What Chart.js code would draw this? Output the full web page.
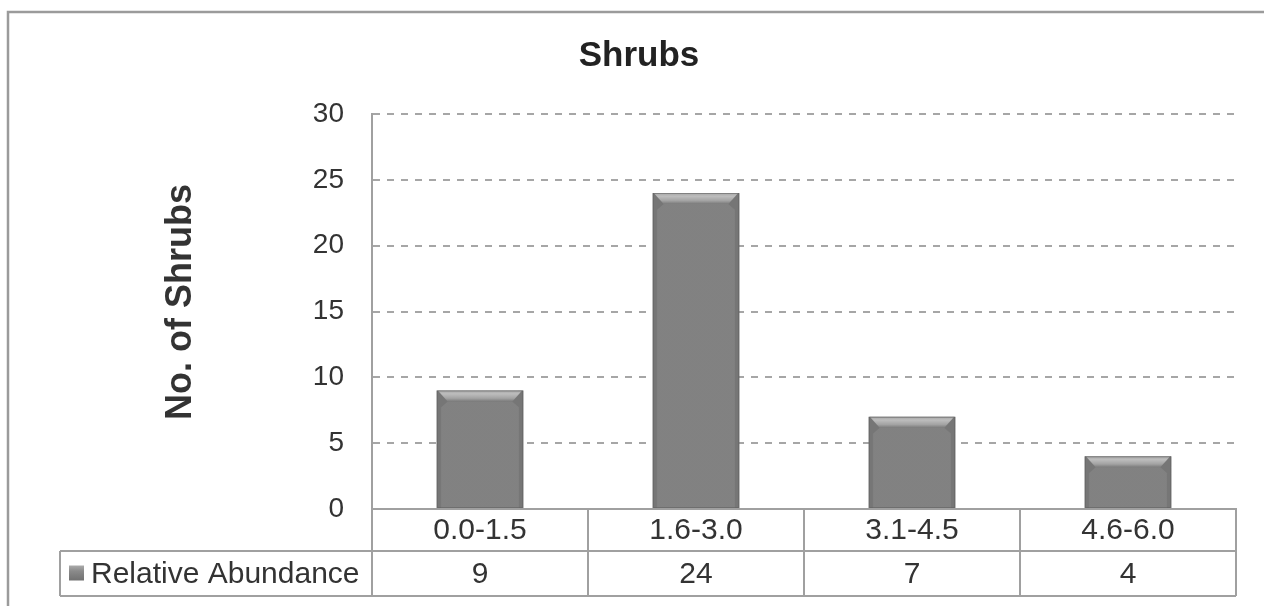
<!DOCTYPE html>
<html>
<head>
<meta charset="utf-8">
<title>Shrubs</title>
<script src="https://cdn.jsdelivr.net/npm/chart.js@4.4.1/dist/chart.umd.min.js"></script>
<style>
  html, body { margin: 0; padding: 0; background: #ffffff; }
  #wrap { width: 1264px; height: 606px; position: relative; }
  canvas { display: block; }
</style>
</head>
<body>
<div id="wrap"><canvas id="c" width="1264" height="606"></canvas></div>
<script>
// Height classes (m) and number of shrubs in each class
const categories = ['0.0-1.5', '1.6-3.0', '3.1-4.5', '4.6-6.0'];
const abundance = [9, 24, 7, 4];
const seriesName = 'Relative Abundance';
const chartTitle = 'Shrubs';
const yTitle = 'No. of Shrubs';
const yMin = 0, yMax = 30, yStep = 5;

const FONT = '"Liberation Sans", Arial, Helvetica, sans-serif';
const LINE = '#a0a0a0';
const TEXT = '#333333';
const BAR = '#848484';

// Excel-style bevel on each bar, table under the plot, frame and y title
const decor = {
  id: 'decor',
  afterDatasetsDraw(chart) {
    const ctx = chart.ctx;
    const meta = chart.getDatasetMeta(0);
    meta.data.forEach(bar => {
      const w = bar.width;
      const L = bar.x - w / 2, R = bar.x + w / 2;
      const T = Math.min(bar.y, bar.base), B = Math.max(bar.y, bar.base);
      const bv = 11, sv = 4;
      ctx.save();
      // face shading
      let g = ctx.createLinearGradient(L, 0, R, 0);
      g.addColorStop(0, 'rgba(0,0,0,0.16)');
      g.addColorStop(0.06, 'rgba(0,0,0,0.02)');
      g.addColorStop(0.94, 'rgba(0,0,0,0.02)');
      g.addColorStop(1, 'rgba(0,0,0,0.18)');
      ctx.fillStyle = g;
      ctx.fillRect(L, T, w, B - T);
      // side bevel corners
      ctx.fillStyle = '#767676';
      ctx.beginPath();
      ctx.moveTo(L, T); ctx.lineTo(L + bv, T + bv); ctx.lineTo(L + sv, T + bv + 6); ctx.lineTo(L + sv, B); ctx.lineTo(L, B);
      ctx.closePath(); ctx.fill();
      ctx.beginPath();
      ctx.moveTo(R, T); ctx.lineTo(R - bv, T + bv); ctx.lineTo(R - sv, T + bv + 6); ctx.lineTo(R - sv, B); ctx.lineTo(R, B);
      ctx.closePath(); ctx.fill();
      // top bevel
      g = ctx.createLinearGradient(0, T, 0, T + bv);
      g.addColorStop(0, '#a6a6a6');
      g.addColorStop(0.3, '#bdbdbd');
      g.addColorStop(0.7, '#a3a3a3');
      g.addColorStop(1, '#7a7a7a');
      ctx.fillStyle = g;
      ctx.beginPath();
      ctx.moveTo(L + 1, T); ctx.lineTo(R - 1, T); ctx.lineTo(R - bv, T + bv); ctx.lineTo(L + bv, T + bv);
      ctx.closePath(); ctx.fill();
      // soft outline
      ctx.strokeStyle = 'rgba(95,95,95,0.55)';
      ctx.lineWidth = 1;
      ctx.strokeRect(L + 0.5, T + 0.5, w - 1, B - T - 1);
      ctx.restore();
    });
  },
  afterDraw(chart) {
    const ctx = chart.ctx;
    const area = chart.chartArea;
    const xs = chart.scales.x;
    const n = categories.length;
    const colW = (area.right - area.left) / n;
    const row1Top = area.bottom, row1Bot = 551, row2Bot = 596;
    const legendLeft = 60;

    ctx.save();
    // outer frame
    ctx.strokeStyle = '#9b9b9b';
    ctx.lineWidth = 2.5;
    ctx.beginPath();
    ctx.moveTo(8, 606); ctx.lineTo(8, 12); ctx.lineTo(1264, 12);
    ctx.stroke();

    // data table grid
    ctx.strokeStyle = LINE;
    ctx.lineWidth = 2;
    ctx.beginPath();
    ctx.moveTo(area.left, row1Top); ctx.lineTo(area.right, row1Top);
    ctx.moveTo(legendLeft, row1Bot); ctx.lineTo(area.right, row1Bot);
    ctx.moveTo(legendLeft, row2Bot); ctx.lineTo(area.right, row2Bot);
    ctx.moveTo(legendLeft, row1Bot); ctx.lineTo(legendLeft, row2Bot);
    for (let i = 0; i <= n; i++) {
      const x = area.left + i * colW;
      ctx.moveTo(x, row1Top); ctx.lineTo(x, row2Bot);
    }
    ctx.stroke();

    // table text
    ctx.fillStyle = TEXT;
    ctx.font = '30px ' + FONT;
    ctx.textAlign = 'center';
    ctx.textBaseline = 'middle';
    categories.forEach((c, i) => {
      const x = xs.getPixelForValue(i);
      ctx.fillText(c, x, (row1Top + row1Bot) / 2 + 1);
      ctx.fillText(String(abundance[i]), x, (row1Bot + row2Bot) / 2 + 1);
    });

    // legend key
    const ky = (row1Bot + row2Bot) / 2;
    const g = ctx.createLinearGradient(0, ky - 8, 0, ky + 8);
    g.addColorStop(0, '#ababab');
    g.addColorStop(0.35, '#8a8a8a');
    g.addColorStop(1, '#6e6e6e');
    ctx.fillStyle = g;
    ctx.fillRect(69, ky - 8, 15, 15);
    ctx.fillStyle = TEXT;
    ctx.textAlign = 'left';
    ctx.fillText(seriesName, 91, ky + 1);

    // y-axis title
    ctx.translate(180, 302);
    ctx.rotate(-Math.PI / 2);
    ctx.font = 'bold 36px ' + FONT;
    ctx.textAlign = 'center';
    ctx.textBaseline = 'middle';
    ctx.fillStyle = TEXT;
    ctx.fillText(yTitle, 0, 1);
    ctx.restore();
  }
};

new Chart(document.getElementById('c'), {
  type: 'bar',
  data: {
    labels: categories,
    datasets: [{
      label: seriesName,
      data: abundance,
      backgroundColor: BAR,
      borderWidth: 0,
      categoryPercentage: 1.0,
      barPercentage: 0.4
    }]
  },
  options: {
    responsive: false,
    animation: false,
    devicePixelRatio: 1,
    layout: { padding: { left: 42, right: 28, top: 0, bottom: 0 } },
    plugins: {
      legend: { display: false },
      tooltip: { enabled: false },
      title: {
        display: true,
        text: chartTitle,
        color: '#222222',
        font: { family: FONT, size: 35, weight: 'bold', lineHeight: 1.2 },
        padding: { top: 35, bottom: 37 }
      }
    },
    scales: {
      x: {
        grid: { display: false },
        border: { display: true, color: LINE, width: 2 },
        ticks: { display: false },
        afterFit(scale) { scale.height = 97; }
      },
      y: {
        min: yMin,
        max: yMax,
        ticks: {
          stepSize: yStep,
          padding: 28,
          color: TEXT,
          font: { family: FONT, size: 28 }
        },
        grid: { color: '#a6a6a6', lineWidth: 2, drawTicks: false },
        border: { display: true, color: LINE, width: 2, dash: [7, 7] },
        afterFit(scale) { scale.width = 330; }
      }
    }
  },
  plugins: [decor]
});
</script>
</body>
</html>
